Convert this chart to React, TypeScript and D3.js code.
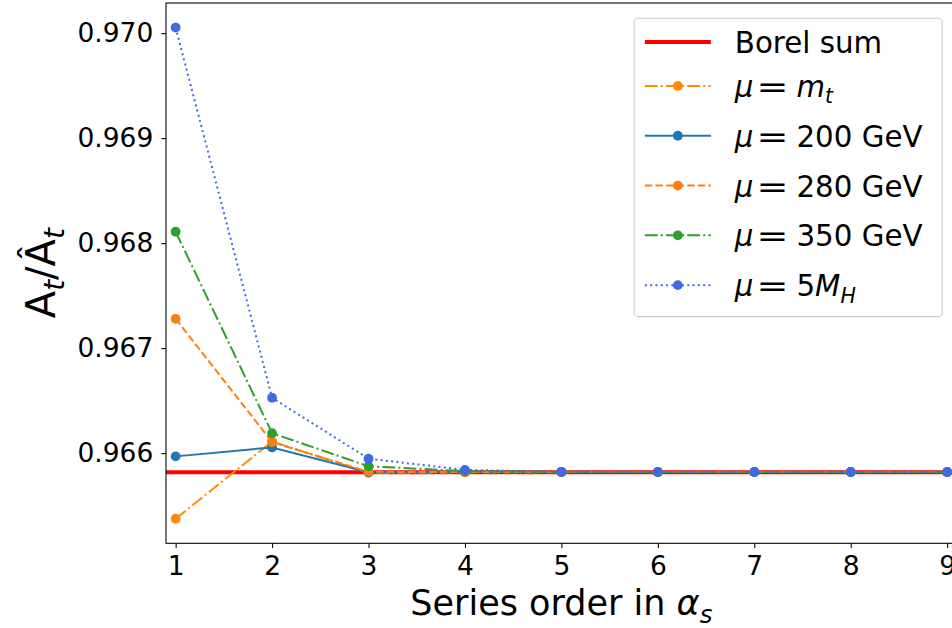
import React, { useEffect, useRef } from 'react';
import * as d3 from 'd3';

// series order in alpha_s
const orders = [1, 2, 3, 4, 5, 6, 7, 8, 9];
const borelSum = 0.965818;

// values
const muMt = [0.965375, 0.96611, 0.965812, 0.965818, 0.965819, 0.965819, 0.965819, 0.965819, 0.965819];
const mu200 = [0.965969, 0.966054, 0.965818, 0.965819, 0.965819, 0.965819, 0.965819, 0.965819, 0.965819];
const mu280 = [0.967279, 0.966105, 0.965822, 0.965819, 0.965819, 0.965819, 0.965819, 0.965819, 0.965819];
const mu350 = [0.968109, 0.96619, 0.965875, 0.965828, 0.965821, 0.96582, 0.96582, 0.96582, 0.96582];
const mu5MH = [0.970053, 0.966527, 0.965947, 0.96584, 0.965822, 0.96582, 0.96582, 0.96582, 0.96582];

const xTicks = [1, 2, 3, 4, 5, 6, 7, 8, 9];
const yTicks = [0.966, 0.967, 0.968, 0.969, 0.97];

type Piece = { t: string; it?: boolean; sub?: boolean; dx?: number; w?: number };

const eq: Piece = { t: '=', dx: 3, w: 32 };

const series = [
  { values: muMt, color: '#ff8c00', dash: '12.8,3.2,2,3.2',
    label: [{ t: 'μ', it: true }, eq, { t: 'm', it: true, dx: 8 }, { t: 't', it: true, sub: true }] },
  { values: mu200, color: '#1f77b4', dash: null,
    label: [{ t: 'μ', it: true }, eq, { t: '200 GeV', dx: 8 }] },
  { values: mu280, color: '#ff7f0e', dash: '7.4,3.2',
    label: [{ t: 'μ', it: true }, eq, { t: '280 GeV', dx: 8 }] },
  { values: mu350, color: '#2ca02c', dash: '12.8,3.2,2,3.2',
    label: [{ t: 'μ', it: true }, eq, { t: '350 GeV', dx: 8 }] },
  { values: mu5MH, color: '#4169e1', dash: '2,3.3',
    label: [{ t: 'μ', it: true }, eq, { t: '5', dx: 8 }, { t: 'M', it: true }, { t: 'H', it: true, sub: true }] },
];

const FONT = '"DejaVu Sans", sans-serif';

function mathText(sel: any, pieces: Piece[], fs: number) {
  let shift = 0;
  pieces.forEach((p) => {
    const want = p.sub ? fs * 0.22 : 0;
    const ts = sel.append('tspan')
      .attr('dx', p.dx || 0)
      .attr('dy', want - shift)
      .style('font-style', p.it ? 'italic' : 'normal')
      .style('font-size', (p.sub ? fs * 0.7 : fs) + 'px')
      .text(p.t);
    if (p.w) ts.attr('textLength', p.w).attr('lengthAdjust', 'spacingAndGlyphs');
    shift = want;
  });
}

export default function App() {
  const ref = useRef<SVGSVGElement>(null);

  useEffect(() => {
    const svg = d3.select(ref.current);
    svg.selectAll('*').remove();

    const left = 166, right = 956.8, top = 3, bottom = 543.3;
    const x = d3.scaleLinear().domain([0.9, 9.1]).range([left, right]);
    const all = [borelSum, ...series.flatMap((s) => s.values)];
    const [lo, hi] = d3.extent(all) as [number, number];
    const pad = (hi - lo) * 0.05;
    const y = d3.scaleLinear().domain([lo - pad, hi + pad]).range([bottom, top]);

    svg.append('defs').append('clipPath').attr('id', 'plot')
      .append('rect').attr('x', left).attr('y', top)
      .attr('width', right - left).attr('height', bottom - top);

    const plot = svg.append('g').attr('clip-path', 'url(#plot)');

    // Borel sum
    plot.append('line')
      .attr('x1', left).attr('x2', right)
      .attr('y1', y(borelSum)).attr('y2', y(borelSum))
      .attr('stroke', '#ff0000').attr('stroke-width', 4);

    const line = d3.line<number>().x((_, i) => x(orders[i])).y((d) => y(d));

    series.forEach((s) => {
      plot.append('path')
        .attr('d', line(s.values))
        .attr('fill', 'none')
        .attr('stroke', s.color)
        .attr('stroke-width', 2)
        .attr('stroke-dasharray', s.dash);
      plot.selectAll(null).data(s.values).enter().append('circle')
        .attr('cx', (_, i) => x(orders[i]))
        .attr('cy', (d) => y(d))
        .attr('r', 4.9)
        .attr('fill', s.color);
    });

    // axes
    const xAxis = svg.append('g').attr('transform', `translate(0,${bottom})`)
      .call(d3.axisBottom(x).tickValues(xTicks).tickFormat(d3.format('d')).tickSize(4.7).tickPadding(8));
    const yAxis = svg.append('g').attr('transform', `translate(${left},0)`)
      .call(d3.axisLeft(y).tickValues(yTicks).tickFormat(d3.format('.3f')).tickSize(4.7).tickPadding(8));
    [xAxis, yAxis].forEach((a) => {
      a.select('.domain').remove();
      a.selectAll('line').attr('stroke', '#000').attr('stroke-width', 1.07);
      a.selectAll('text').attr('fill', '#000').style('font-family', FONT).style('font-size', '26.5px');
    });

    // spines
    svg.append('rect')
      .attr('x', left).attr('y', top)
      .attr('width', right - left).attr('height', bottom - top)
      .attr('fill', 'none').attr('stroke', '#000').attr('stroke-width', 1.07);

    // axis labels
    const xl = svg.append('text')
      .attr('x', (left + right) / 2).attr('y', 615)
      .attr('text-anchor', 'middle').attr('fill', '#000')
      .style('font-family', FONT);
    mathText(xl, [{ t: 'Series order in ' }, { t: 'α', it: true }, { t: 's', it: true, sub: true }], 35);

    const yl = svg.append('text')
      .attr('transform', `translate(55,${(top + bottom) / 2}) rotate(-90)`)
      .attr('text-anchor', 'middle').attr('fill', '#000')
      .style('font-family', FONT);
    mathText(yl, [{ t: 'A' }, { t: 't', it: true, sub: true }, { t: '/' }, { t: 'Â' }, { t: 't', it: true, sub: true }], 40);

    // legend
    const lfs = 29.3;
    const lgRight = right - lfs * 0.5;
    const lgTop = top + lfs * 0.52;
    const lgW = 308, lgH = 298.4;
    const lg = svg.append('g').attr('transform', `translate(${lgRight - lgW},${lgTop})`);
    lg.append('rect')
      .attr('width', lgW).attr('height', lgH).attr('rx', 4)
      .attr('fill', '#fff').attr('fill-opacity', 0.8)
      .attr('stroke', '#cccccc').attr('stroke-width', 1.07);

    const rowY = (i: number) => (i === 0 ? 23.7 : 67.7 + (i - 1) * 49.8);
    const hx0 = 10.7, hx1 = 76.7, tx = 100.7;

    lg.append('line')
      .attr('x1', hx0).attr('x2', hx1).attr('y1', rowY(0)).attr('y2', rowY(0))
      .attr('stroke', '#ff0000').attr('stroke-width', 4);
    const bt = lg.append('text').attr('x', tx).attr('y', rowY(0) + 11)
      .attr('fill', '#000').style('font-family', FONT);
    mathText(bt, [{ t: 'Borel sum' }], lfs);

    series.forEach((s, k) => {
      const ry = rowY(k + 1);
      lg.append('line')
        .attr('x1', hx0).attr('x2', hx1).attr('y1', ry).attr('y2', ry)
        .attr('stroke', s.color).attr('stroke-width', 2)
        .attr('stroke-dasharray', s.dash);
      lg.append('circle').attr('cx', (hx0 + hx1) / 2).attr('cy', ry).attr('r', 4.9).attr('fill', s.color);
      const t = lg.append('text').attr('x', tx).attr('y', ry + 11)
        .attr('fill', '#000').style('font-family', FONT);
      mathText(t, s.label as Piece[], lfs);
    });
  }, []);

  return (
    <svg
      ref={ref}
      width={952}
      height={628}
      style={{ position: 'absolute', left: 0, top: 0, background: '#fff' }}
    />
  );
}
